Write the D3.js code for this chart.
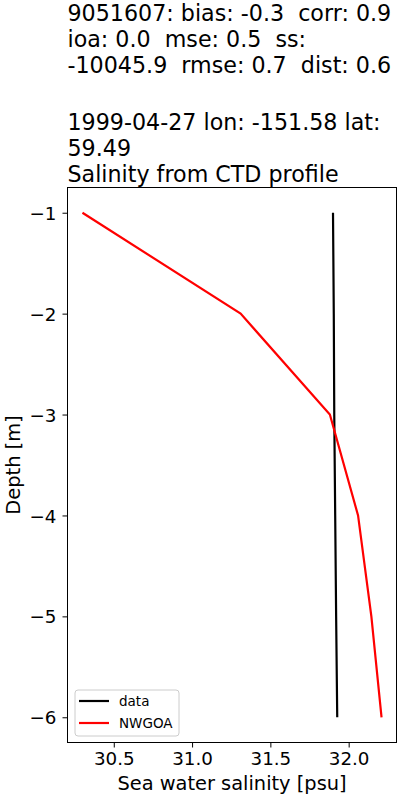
<!DOCTYPE html>
<html>
<head>
<meta charset="utf-8">
<script src="https://cdn.jsdelivr.net/npm/d3@7"></script>
<style>
  body { margin: 0; background: #fff; }
  svg { font-family: "DejaVu Sans", sans-serif; }
  svg text { white-space: pre; }
</style>
</head>
<body>
<svg id="chart" width="400" height="800"></svg>
<script>
// profile values
const depths = [-1, -2, -3, -4, -5, -6];
const obsSalinity = [31.900, 31.905, 31.908, 31.914, 31.920, 31.927];
const modelSalinity = [30.30, 31.31, 31.88, 32.06, 32.145, 32.21];
const xTicks = [30.5, 31.0, 31.5, 32.0];
const yTicks = [-1, -2, -3, -4, -5, -6];
const titleTop = [
    "9051607: bias: -0.3  corr: 0.9",
    "ioa: 0.0  mse: 0.5  ss:",
    "-10045.9  rmse: 0.7  dist: 0.6"
];
const titleBottom = [
    "1999-04-27 lon: -151.58 lat:",
    "59.49",
    "Salinity from CTD profile"
];
const seriesNames = ["data", "NWGOA"];
const seriesColors = ["#000000", "#ff0000"];

const svg = d3.select("#chart");
const margin = { top: 187.5, right: 3.5, bottom: 57.5, left: 67.5 };
const innerW = 400 - margin.left - margin.right;
const innerH = 800 - margin.top - margin.bottom;

const g = svg.append("g").attr("transform", `translate(${margin.left},${margin.top})`);

// matplotlib style 5% padding
const allX = obsSalinity.concat(modelSalinity);
const xMin = d3.min(allX), xMax = d3.max(allX);
const xPad = (xMax - xMin) * 0.05;
const x = d3.scaleLinear().domain([xMin - xPad, xMax + xPad]).range([0, innerW]);
const yPad = (d3.max(depths) - d3.min(depths)) * 0.05;
const y = d3.scaleLinear().domain([d3.min(depths) - yPad, d3.max(depths) + yPad]).range([innerH, 0]);

// axes
const xAxis = g.append("g")
    .attr("transform", `translate(0,${innerH})`)
    .call(d3.axisBottom(x).tickValues(xTicks).tickFormat(d3.format(".1f")).tickSize(5).tickPadding(5));
const yAxis = g.append("g")
    .call(d3.axisLeft(y).tickValues(yTicks).tickFormat(d => "\u2212" + Math.abs(d)).tickSize(5).tickPadding(6));

[xAxis, yAxis].forEach(a => {
    a.select(".domain").remove();
    a.selectAll("text").style("font-size", "18.3px").attr("fill", "#000").style("font-family", "DejaVu Sans");
    a.selectAll("line").attr("stroke", "#000").attr("stroke-width", 1);
});
yAxis.selectAll("text").attr("dy", "0.36em");

// frame
g.append("rect")
    .attr("width", innerW)
    .attr("height", innerH)
    .attr("fill", "none")
    .attr("stroke", "#000")
    .attr("stroke-width", 1);

// lines
const line = d3.line()
    .x(d => x(d[0]))
    .y(d => y(d[1]));

g.append("path")
    .datum(d3.zip(obsSalinity, depths))
    .attr("fill", "none")
    .attr("stroke", seriesColors[0])
    .attr("stroke-width", 2.2)
    .attr("d", line);

g.append("path")
    .datum(d3.zip(modelSalinity, depths))
    .attr("fill", "none")
    .attr("stroke", seriesColors[1])
    .attr("stroke-width", 2.2)
    .attr("d", line);

// axis labels
svg.append("text")
    .attr("x", margin.left + innerW / 2)
    .attr("y", 790)
    .attr("text-anchor", "middle")
    .style("font-size", "19.4px")
    .text("Sea water salinity [psu]");

svg.append("text")
    .attr("transform", `translate(20,${margin.top + innerH / 2}) rotate(-90)`)
    .attr("text-anchor", "middle")
    .style("font-size", "19.4px")
    .text("Depth [m]");

// title
titleTop.forEach((t, i) => {
    svg.append("text").attr("x", 67.5).attr("y", 21 + i * 26).style("font-size", "22.2px").text(t);
});
titleBottom.forEach((t, i) => {
    svg.append("text").attr("x", 67.5).attr("y", 129.5 + i * 26.2).style("font-size", "22.2px").text(t);
});

// legend
const leg = g.append("g").attr("transform", `translate(7.5,${innerH - 52.5})`);
leg.append("rect")
    .attr("width", 104)
    .attr("height", 46)
    .attr("rx", 3)
    .attr("fill", "#fff")
    .attr("fill-opacity", 0.8)
    .attr("stroke", "#ccc");
seriesNames.forEach((name, i) => {
    const yy = 11 + i * 22;
    leg.append("line")
        .attr("x1", 4).attr("x2", 34)
        .attr("y1", yy).attr("y2", yy)
        .attr("stroke", seriesColors[i])
        .attr("stroke-width", 2.2);
    leg.append("text")
        .attr("x", 44)
        .attr("y", yy + 5)
        .style("font-size", "13.5px")
        .text(name);
});
</script>
</body>
</html>
